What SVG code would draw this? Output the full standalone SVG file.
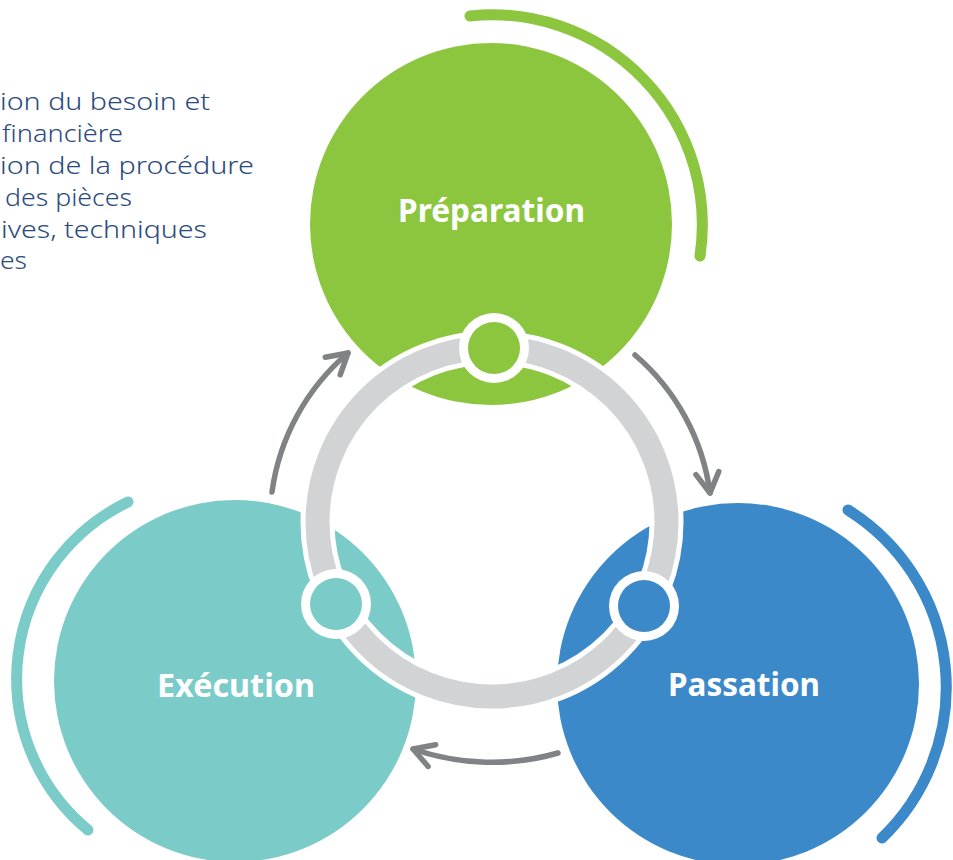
<svg xmlns="http://www.w3.org/2000/svg" width="953" height="860" viewBox="0 0 953 860">
  <defs>
    <style>
      .disc-green { fill: #8CC63F; }
      .disc-teal { fill: #7BCBC9; }
      .disc-blue { fill: #3B89C8; }
      .halo { fill: none; stroke-width: 11; stroke-linecap: round; }
      .label { font-family: "Noto Sans", "Open Sans", "Liberation Sans", sans-serif; font-weight: 700; font-size: 32px; fill: #FFFFFF; }
      .notes { font-family: "Noto Sans", "Open Sans", "Liberation Sans", sans-serif; font-weight: 300; font-size: 24px; fill: #2B4A7C; }
      .flow { fill: none; stroke: #808285; stroke-width: 5.5; stroke-linecap: round; marker-end: url(#chevron); }
      .dot-ring { fill: #FFFFFF; }
    </style>
    <marker id="chevron" markerUnits="userSpaceOnUse" markerWidth="60" markerHeight="60" viewBox="-30 -30 60 60" refX="0" refY="0" orient="auto" overflow="visible">
      <path d="M -20 -11.5 L 0 0 L -20 11.5" fill="none" stroke="#808285" stroke-width="5.5" stroke-linecap="round" stroke-linejoin="round"/>
    </marker>
  </defs>

  <rect width="953" height="860" fill="#FFFFFF"/>

  <!-- side notes, clipped by the left edge -->
  <g id="notes" class="notes">
    <text x="0" y="110" textLength="210" lengthAdjust="spacingAndGlyphs">ion du besoin et</text>
    <text x="2" y="142" textLength="121" lengthAdjust="spacingAndGlyphs">financière</text>
    <text x="0" y="174" textLength="254" lengthAdjust="spacingAndGlyphs">ion de la procédure</text>
    <text x="5" y="206" textLength="127" lengthAdjust="spacingAndGlyphs">des pièces</text>
    <text x="1" y="238" textLength="206" lengthAdjust="spacingAndGlyphs">ives, techniques</text>
    <text x="0" y="269" textLength="27" lengthAdjust="spacingAndGlyphs">es</text>
  </g>

  <!-- Préparation -->
  <g id="node-preparation">
    <path class="halo" stroke="#8CC63F" d="M 470 16 A 210 210 0 0 1 700 256"/>
    <circle class="disc-green" cx="491" cy="224" r="181"/>
    <text class="label" x="398" y="222" textLength="187" lengthAdjust="spacingAndGlyphs">Préparation</text>
  </g>

  <!-- Exécution -->
  <g id="node-execution">
    <path class="halo" stroke="#7BCBC9" d="M 128 502 A 196 196 0 0 0 88 830"/>
    <circle class="disc-teal" cx="235" cy="681" r="181"/>
    <text class="label" x="157" y="697" textLength="158" lengthAdjust="spacingAndGlyphs">Exécution</text>
  </g>

  <!-- Passation -->
  <g id="node-passation">
    <path class="halo" stroke="#3B89C8" d="M 848 510 A 209 209 0 0 1 882 838"/>
    <circle class="disc-blue" cx="738" cy="684" r="181"/>
    <text class="label" x="668" y="696" textLength="152" lengthAdjust="spacingAndGlyphs">Passation</text>
  </g>

  <!-- central cycle ring with a white rim -->
  <g id="cycle-ring">
    <circle cx="492" cy="522" r="174.5" fill="none" stroke="#FFFFFF" stroke-width="34"/>
    <circle cx="492" cy="522" r="174.5" fill="none" stroke="#D1D3D5" stroke-width="24"/>
  </g>

  <!-- stage markers on the ring -->
  <g id="ring-markers">
    <circle class="dot-ring" cx="494" cy="348" r="35"/>
    <circle class="disc-green" cx="494" cy="348" r="26"/>
    <circle class="dot-ring" cx="336" cy="604" r="35"/>
    <circle class="disc-teal" cx="336" cy="604" r="26"/>
    <circle class="dot-ring" cx="644" cy="606" r="35"/>
    <circle class="disc-blue" cx="644" cy="606" r="26"/>
  </g>

  <!-- connectors -->
  <g id="connectors">
    <path class="flow" d="M 272 492 A 222 222 0 0 1 348 353"/>
    <path class="flow" d="M 635 355 A 220 220 0 0 1 710 493"/>
    <path class="flow" d="M 558 753 A 240 240 0 0 1 413 749"/>
  </g>
</svg>
